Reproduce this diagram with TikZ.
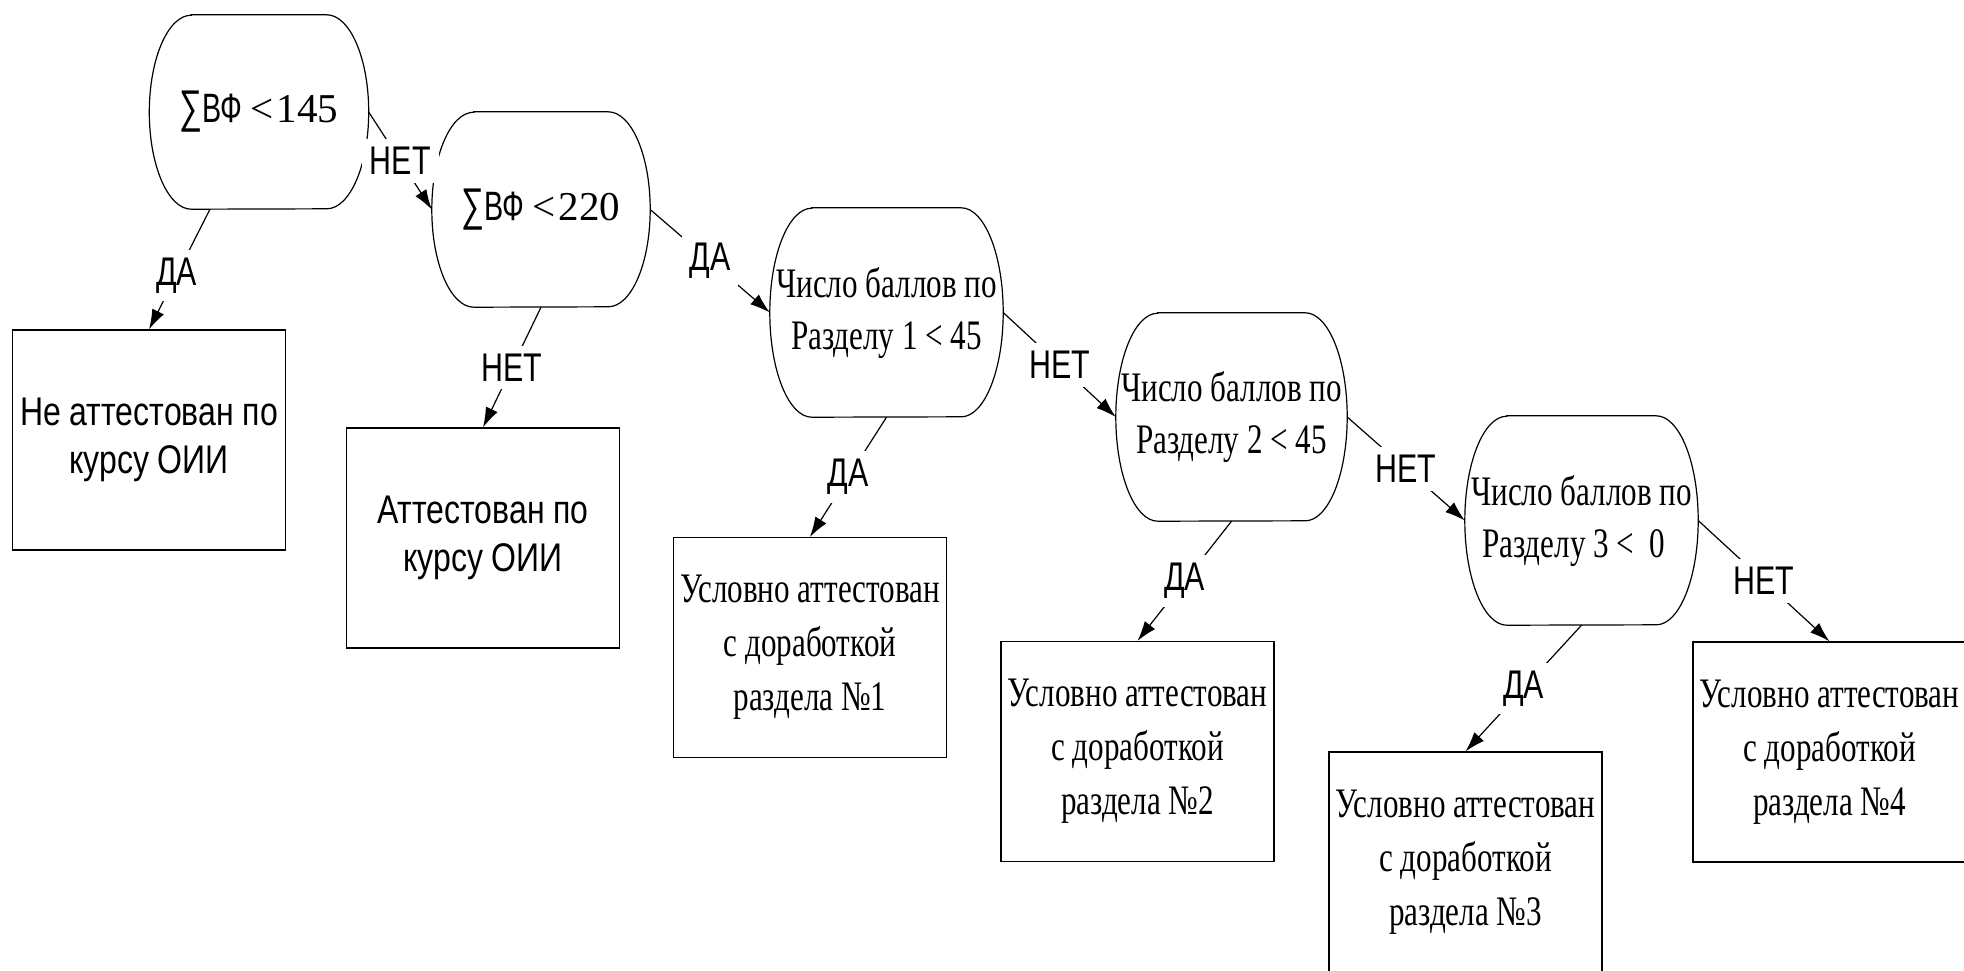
\documentclass[tikz,border=0pt]{standalone}
\usepackage{fontspec}
\setmainfont{Liberation Serif}
\newfontfamily\nserif[FakeStretch=0.74]{Liberation Serif}
\newfontfamily\nsans[FakeStretch=0.80]{Liberation Sans}
\newfontfamily\lsans[FakeStretch=0.76]{Liberation Sans}
\newfontfamily\ssans[FakeStretch=0.70]{Liberation Sans}
\usetikzlibrary{arrows.meta}
\tikzset{
  outl/.style={line width=1.2pt},
  resbox/.style={draw, outl, minimum width=273pt, minimum height=220pt, align=center, inner sep=0pt,
    font=\nserif\fontsize{42}{54}\selectfont},
  sresbox/.style={resbox, font=\nsans\fontsize{40}{48}\selectfont},
  dec/.style={align=center, inner sep=0pt, font=\nserif\fontsize{42}{52}\selectfont},
  lbl/.style={fill=white, inner sep=8pt, font=\lsans\fontsize{40}{46}\selectfont},
  conn/.style={outl, -{Latex[length=20pt,width=13pt]}},
}
\newcommand\decoutline[2]{%
  \draw[outl] ([xshift=42pt]#1.north west) -- ([xshift=-42pt]#1.north east)
    arc[start angle=90, end angle=-90, x radius=42pt, y radius=#2]
    -- ([xshift=42pt]#1.south west)
    arc[start angle=270, end angle=90, x radius=42pt, y radius=#2] -- cycle;}
\newcommand\sumtext[1]{{\ssans\fontsize{41}{52}\selectfont\scalebox{1.12}{∑}ВФ}\kern8pt{\rmfamily\fontsize{41}{52}\selectfont <\kern3pt #1}}
\begin{document}
\begin{tikzpicture}[x=1pt,y=-1pt]
\fill[white] (0,0) rectangle (1964,970);
\useasboundingbox (0,0) rectangle (1964,970);
\clip (0,0) rectangle (1964,970);

% decisions
\node[dec, minimum width=219pt, minimum height=194pt] (D1) at (259,112) {\sumtext{145}};
\node[dec, minimum width=218pt, minimum height=195pt] (D2) at (541,209.5) {\sumtext{220}};
\node[dec, minimum width=233pt, minimum height=209pt] (D3) at (886.5,312.5)
  {Число баллов по\\Разделу 1 < 45};
\node[dec, minimum width=231pt, minimum height=208pt] (D4) at (1231.5,417)
  {Число баллов по\\Разделу 2 < 45};
\node[dec, minimum width=233pt, minimum height=209pt] (D5) at (1581.5,520.5)
  {Число баллов по\\Разделу 3 <\ \ 0\hphantom{0}};
\decoutline{D1}{97pt}
\decoutline{D2}{97.5pt}
\decoutline{D3}{104.5pt}
\decoutline{D4}{104pt}
\decoutline{D5}{104.5pt}

% results
\node[sresbox] (B1) at (149,440) {Не аттестован по\\курсу ОИИ};
\node[sresbox] (B2) at (483,538) {Аттестован по\\курсу ОИИ};
\node[resbox] (B3) at (810,647.5) {Условно аттестован\\с доработкой\\раздела №1};
\node[resbox] (B4) at (1137.5,751.5) {Условно аттестован\\с доработкой\\раздела №2};
\node[resbox] (B5) at (1465.5,862) {Условно аттестован\\с доработкой\\раздела №3};
\node[resbox] (B6) at (1829.5,752) {Условно аттестован\\с доработкой\\раздела №4};

% connectors
\draw[conn] ([xshift=-49pt]D1.south) -- node[lbl, pos=0.55] {ДА} (B1.north);
\draw[conn] (D1.east) -- node[lbl] {НЕТ} (D2.west);
\draw[conn] (D2.south) -- node[lbl] {НЕТ} (B2.north);
\draw[conn] (D2.east) -- node[lbl] {ДА} (D3.west);
\draw[conn] (D3.south) -- node[lbl] {ДА} (B3.north);
\draw[conn] (D3.east) -- node[lbl] {НЕТ} (D4.west);
\draw[conn] (D4.south) -- node[lbl] {ДА} (B4.north);
\draw[conn] (D4.east) -- node[lbl] {НЕТ} (D5.west);
\draw[conn] (D5.south) -- node[lbl] {ДА} (B5.north);
\draw[conn] (D5.east) -- node[lbl] {НЕТ} (B6.north);
\end{tikzpicture}
\end{document}
